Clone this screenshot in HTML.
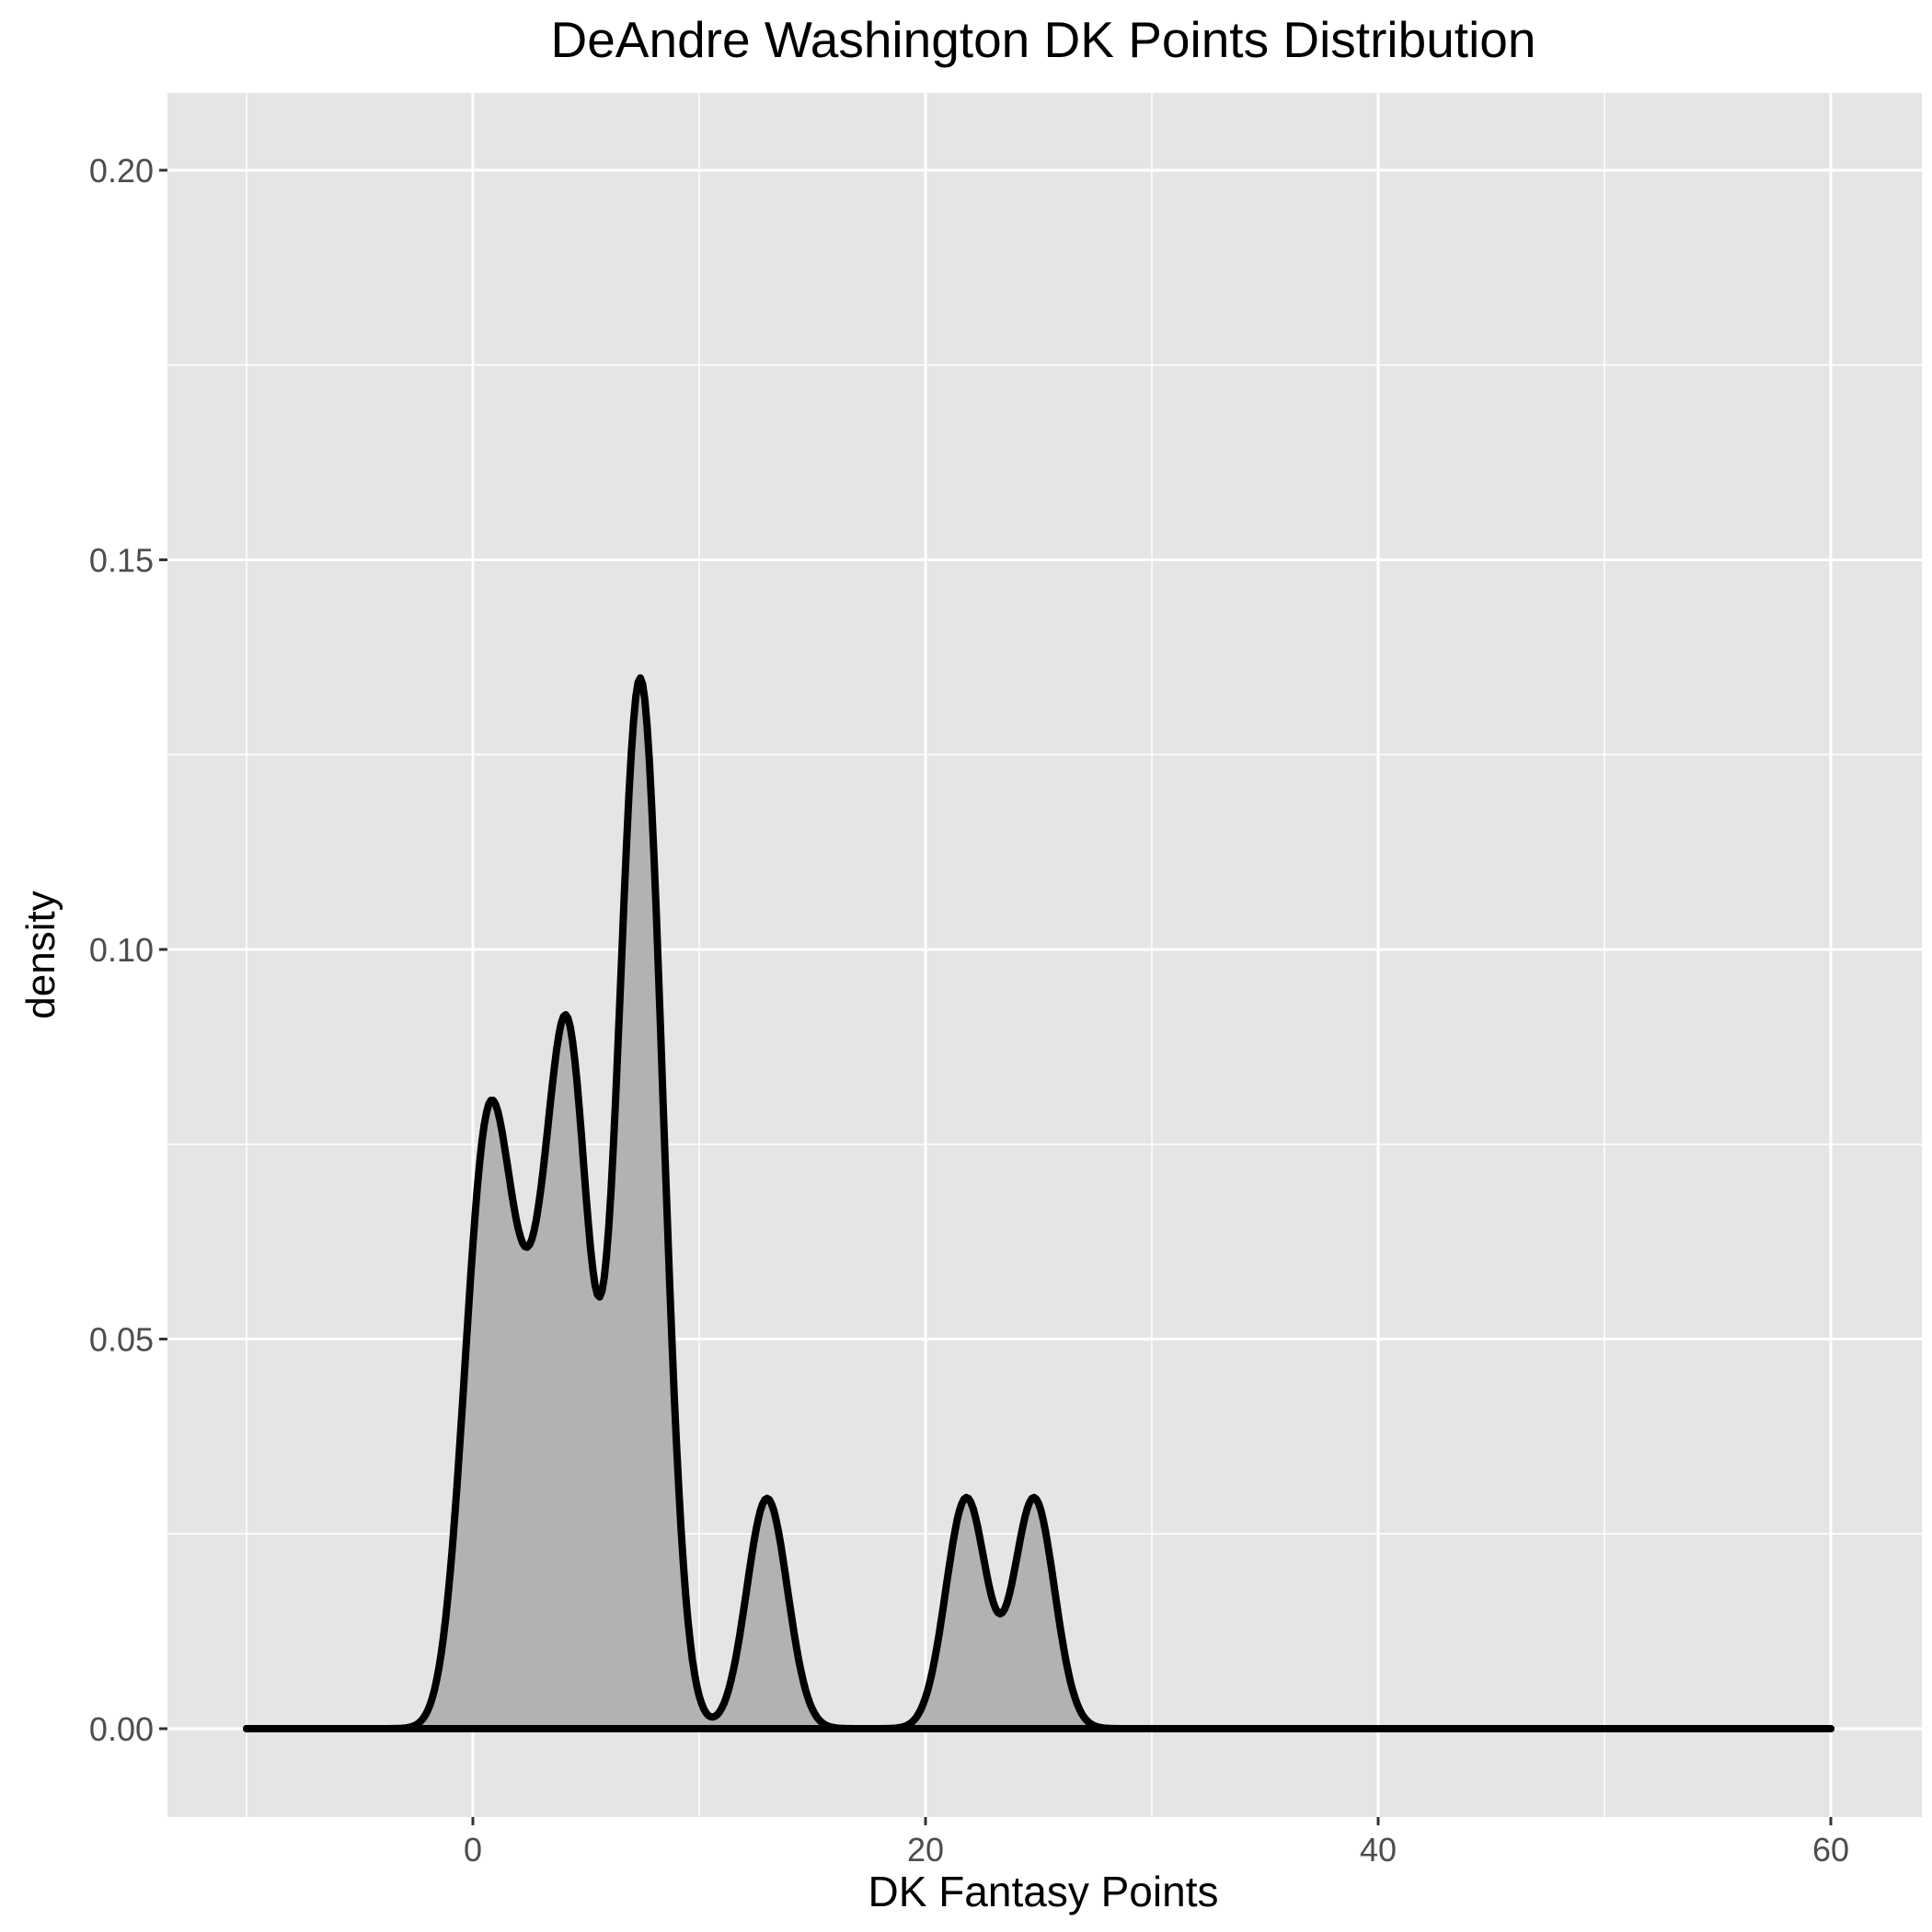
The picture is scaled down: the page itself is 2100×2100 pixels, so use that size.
<!DOCTYPE html>
<html><head><meta charset="utf-8"><style>
html,body{margin:0;padding:0;background:#fff;}
svg{display:block;font-family:"Liberation Sans",Arial,sans-serif;}
</style></head><body>
<svg id="chart" width="2100" height="2100" viewBox="0 0 2100 2100">
<rect x="0" y="0" width="2100" height="2100" fill="#fff"/>
<text x="1134" y="62" font-size="55" text-anchor="middle" fill="#000">DeAndre Washington DK Points Distribution</text>
<g id="panel"></g>
<text x="1134" y="2072" font-size="46" text-anchor="middle" fill="#000">DK Fantasy Points</text>
<text transform="translate(59,1038) rotate(-90)" font-size="44" text-anchor="middle" fill="#000">density</text>
</svg>
<script>
const points = [0.1, 0.7, 1.3, 2.6, 3.9, 4.2, 4.6, 6.8, 7.2, 7.4, 7.6, 8.0, 13.0, 21.8, 24.8];
const bandwidth = 0.9;
const xRange = [-10, 60];
const xTicks = [0, 20, 40, 60];
const xMinor = [-10, 10, 30, 50];
const yTicks = [0, 0.05, 0.10, 0.15, 0.20];
const yTickLabels = ["0.00", "0.05", "0.10", "0.15", "0.20"];
const yMinor = [0.025, 0.075, 0.125, 0.175];

const NS = "http://www.w3.org/2000/svg";
const PL = 182, PR = 2089, PT = 101, PB = 1975;
const X0 = 514, XU = 24.6;
const Y0 = 1879, YU = 8470;
const sx = v => X0 + v * XU;
const sy = v => Y0 - v * YU;
const panel = document.getElementById('panel');
function mk(tag, attrs) {
  const e = document.createElementNS(NS, tag);
  for (const k in attrs) e.setAttribute(k, attrs[k]);
  return e;
}
const bg = mk('rect', {x: PL, y: PT, width: PR - PL, height: PB - PT, fill: '#e5e5e5'});


panel.appendChild(bg);
xMinor.forEach(v => {
  const l = mk('line', {x1: sx(v), x2: sx(v), y1: PT, y2: PB, stroke: '#fff', 'stroke-width': 1.5});
  
  
  panel.appendChild(l);
});
yMinor.forEach(v => {
  const l = mk('line', {x1: PL, x2: PR, y1: sy(v), y2: sy(v), stroke: '#fff', 'stroke-width': 1.5});
  
  
  panel.appendChild(l);
});
xTicks.forEach(v => {
  const l = mk('line', {x1: sx(v), x2: sx(v), y1: PT, y2: PB, stroke: '#fff', 'stroke-width': 3});
  
  
  panel.appendChild(l);
  const t = mk('line', {x1: sx(v), x2: sx(v), y1: PB, y2: PB + 9, stroke: '#333', 'stroke-width': 3});
  
  
  panel.appendChild(t);
  const tx = mk('text', {x: sx(v), y: PB + 48, 'font-size': 36, 'text-anchor': 'middle', fill: '#4d4d4d'});
  tx.textContent = String(v);
  
  
  panel.appendChild(tx);
});
yTicks.forEach((v, i) => {
  const l = mk('line', {x1: PL, x2: PR, y1: sy(v), y2: sy(v), stroke: '#fff', 'stroke-width': 3});
  
  
  panel.appendChild(l);
  const t = mk('line', {x1: PL - 9, x2: PL, y1: sy(v), y2: sy(v), stroke: '#333', 'stroke-width': 3});
  
  
  panel.appendChild(t);
  const tx = mk('text', {x: PL - 15, y: sy(v) + 13, 'font-size': 36, 'text-anchor': 'end', fill: '#4d4d4d'});
  tx.textContent = yTickLabels[i];
  
  
  panel.appendChild(tx);
});
// KDE
const N = 700;
const c = 1 / (points.length * bandwidth * Math.sqrt(2 * Math.PI));
let pts = [];
for (let i = 0; i <= N; i++) {
  const x = xRange[0] + (xRange[1] - xRange[0]) * i / N;
  let d = 0;
  points.forEach(p => { const z = (x - p) / bandwidth; d += Math.exp(-0.5 * z * z); });
  pts.push([sx(x), sy(d * c)]);
}
const line = pts.map((p, i) => (i ? 'L' : 'M') + p[0].toFixed(1) + ',' + p[1].toFixed(1)).join(' ');
const area = mk('path', {d: line + ` L${sx(xRange[1])},${sy(0)} L${sx(xRange[0])},${sy(0)} Z`, fill: '#b2b2b2', stroke: 'none'});


panel.appendChild(area);
const base = mk('line', {x1: sx(xRange[0]), x2: sx(xRange[1]), y1: sy(0), y2: sy(0), stroke: '#000', 'stroke-width': 8, 'stroke-linecap': 'round'});


panel.appendChild(base);
const curve = mk('path', {d: line, fill: 'none', stroke: '#000', 'stroke-width': 8, 'stroke-linejoin': 'round', 'stroke-linecap': 'round'});


panel.appendChild(curve);
</script>
</body></html>
